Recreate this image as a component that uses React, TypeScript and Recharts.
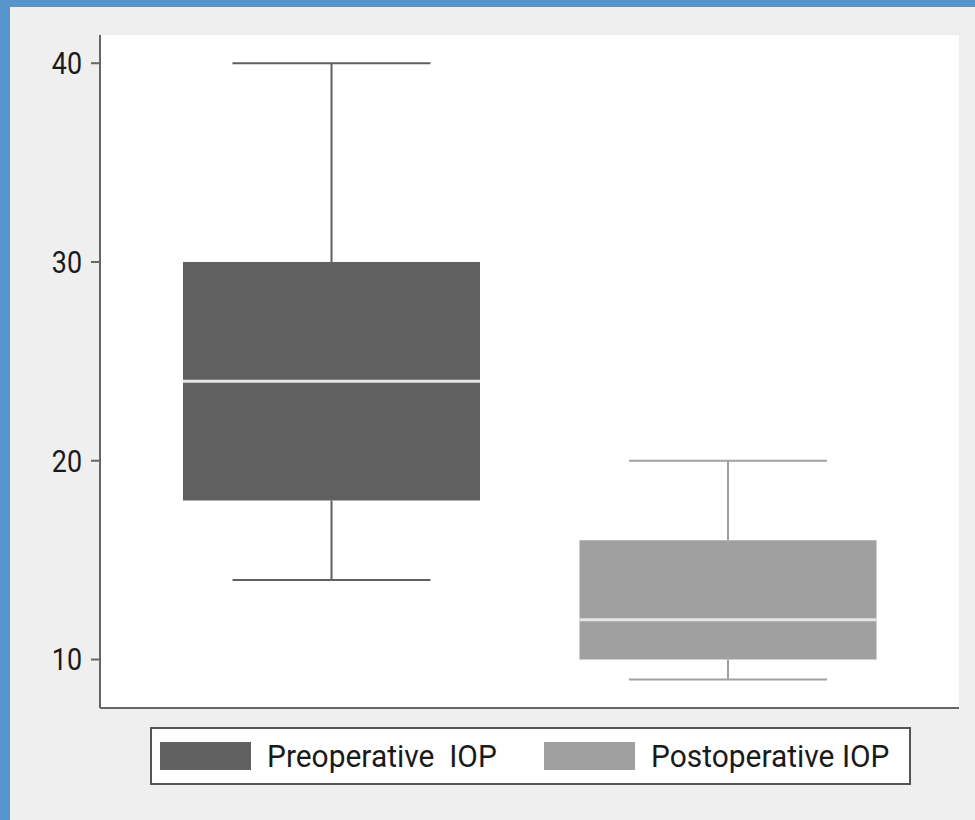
import React from 'react';
import { ComposedChart, Bar, XAxis, YAxis, CartesianGrid } from 'recharts';

// box plot summary values
const groups = ['Preoperative IOP', 'Postoperative IOP'];
const mins = [14, 9];
const q1s = [18, 10];
const medians = [24, 12];
const q3s = [30, 16];
const maxs = [40, 20];
const colors = ['#606060', '#a0a0a0'];
const yTicks = [10, 20, 30, 40];

const data = groups.map((name, i) => ({
  name,
  range: [mins[i], maxs[i]],
  min: mins[i],
  q1: q1s[i],
  median: medians[i],
  q3: q3s[i],
  max: maxs[i],
  color: colors[i],
}));

const BoxShape = (props: any) => {
  const { x, y, width, height, payload } = props;
  const { min, q1, median, q3, max, color } = payload;
  const px = (v: number) => y + ((max - v) / (max - min)) * height;
  const cx = x + width / 2;
  const capHalf = width / 3;
  return (
    <g>
      <line x1={cx} x2={cx} y1={px(max)} y2={px(q3)} stroke={color} strokeWidth={2} />
      <line x1={cx} x2={cx} y1={px(q1)} y2={px(min)} stroke={color} strokeWidth={2} />
      <line x1={cx - capHalf} x2={cx + capHalf} y1={px(max)} y2={px(max)} stroke={color} strokeWidth={2} />
      <line x1={cx - capHalf} x2={cx + capHalf} y1={px(min)} y2={px(min)} stroke={color} strokeWidth={2} />
      <rect x={x} y={px(q3)} width={width} height={px(q1) - px(q3)} fill={color} />
      <line x1={x} x2={x + width} y1={px(median)} y2={px(median)} stroke="#e6e6e6" strokeWidth={3} />
    </g>
  );
};

const YTick = (props: any) => {
  const { x, y, payload } = props;
  return (
    <text
      x={0}
      y={0}
      textAnchor="end"
      dominantBaseline="central"
      fontSize={32}
      fontFamily="Roboto"
      fill="#1a1a1a"
      transform={`translate(${x - 7},${y}) scale(0.84,1)`}
    >
      {payload.value}
    </text>
  );
};

export default function App() {
  return (
    <div style={{ position: 'absolute', left: 0, top: 0, width: 975, height: 820, background: '#5796cc', overflow: 'hidden' }}>
      <div style={{ position: 'absolute', left: 10, top: 7, width: 965, height: 813, background: '#efefef' }} />
      <div style={{ position: 'absolute', left: 0, top: 0 }}>
        <ComposedChart
          width={975}
          height={820}
          data={data}
          margin={{ top: 35, right: 16, bottom: 0, left: 0 }}
        >
          <rect x={101} y={35} width={858} height={673} fill="#ffffff" />
          <CartesianGrid horizontal vertical={false} stroke="#eaeaea" strokeWidth={2} />
          <XAxis
            dataKey="name"
            type="category"
            padding={{ left: 33, right: 33 }}
            tick={false}
            tickLine={false}
            height={112}
            axisLine={{ stroke: '#666', strokeWidth: 2 }}
          />
          <YAxis
            type="number"
            domain={[7.56, 41.42]}
            ticks={yTicks}
            width={100}
            tick={<YTick />}
            tickSize={9}
            tickLine={{ stroke: '#666', strokeWidth: 2 }}
            axisLine={{ stroke: '#666', strokeWidth: 2 }}
            allowDataOverflow
          />
          <Bar dataKey="range" barSize={297} shape={<BoxShape />} isAnimationActive={false} />
        </ComposedChart>
      </div>
      <div
        style={{
          position: 'absolute',
          left: 150,
          top: 727,
          width: 757,
          height: 54,
          background: '#fff',
          border: '2px solid #555',
          fontFamily: 'Roboto',
          fontSize: 32,
          color: '#1a1a1a',
        }}
      >
        {groups.map((g, i) => (
          <div key={g} style={{ position: 'absolute', left: i === 0 ? 8 : 392, top: 13, height: 28, display: 'flex', alignItems: 'center' }}>
            <div style={{ width: 91, height: 28, background: colors[i] }} />
            <span style={{ marginLeft: 16, display: 'inline-block', transform: 'scaleX(0.935)', transformOrigin: 'left center', whiteSpace: 'pre', lineHeight: '28px' }}>
              {i === 0 ? 'Preoperative  IOP' : g}
            </span>
          </div>
        ))}
      </div>
    </div>
  );
}
